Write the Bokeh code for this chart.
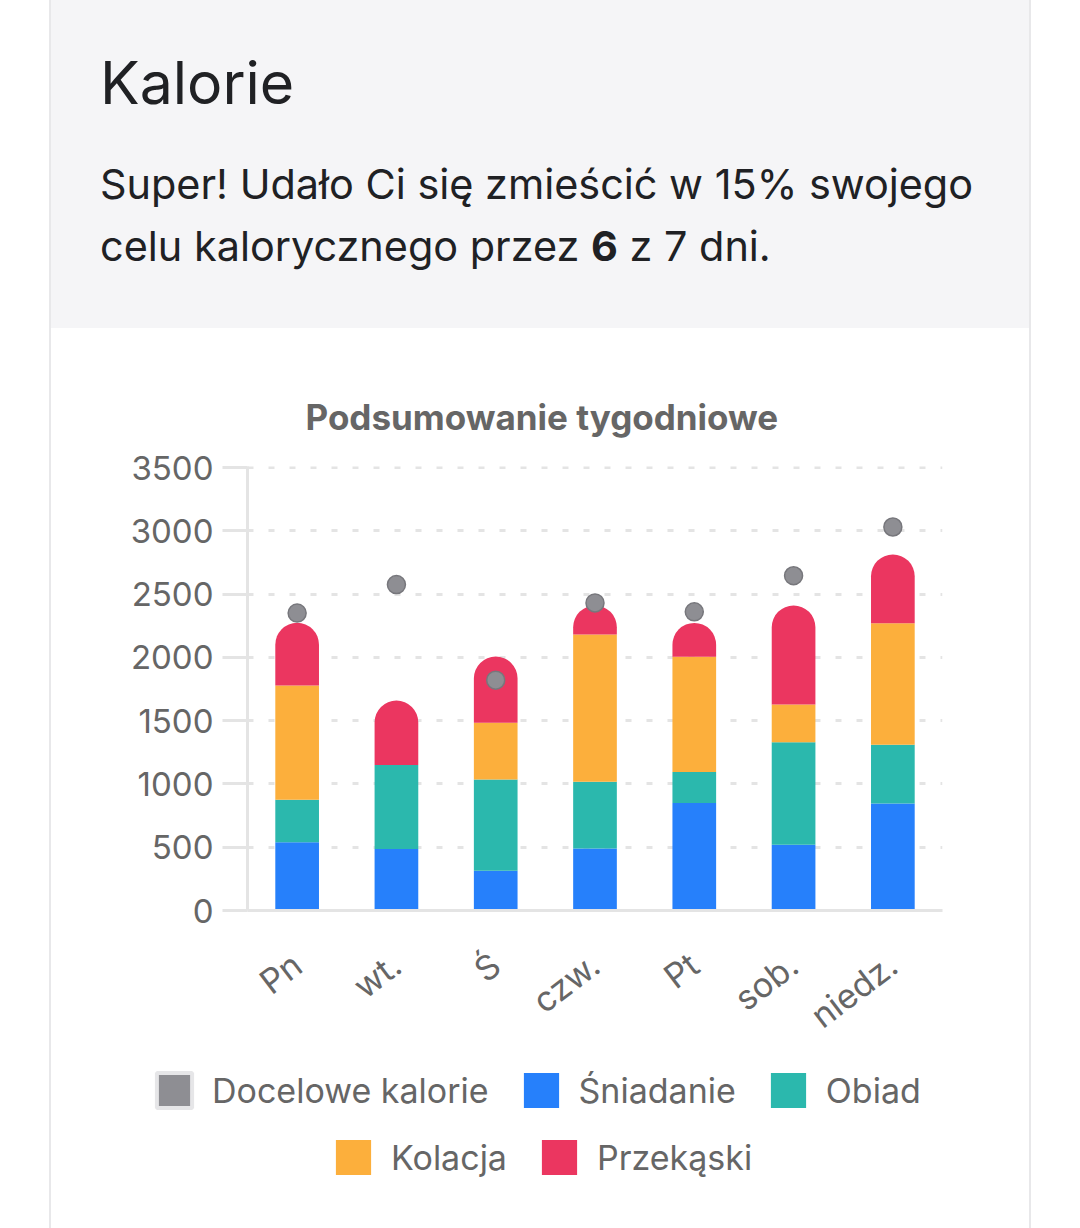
from bokeh.plotting import figure
from bokeh.models import (ColumnDataSource, FactorRange, Range1d, FixedTicker,
                          Legend, LegendItem, Div, Spacer)
from bokeh.layouts import column, row
from bokeh.embed import file_html
from bokeh.resources import INLINE

# ---- data ----
days = ["Pn", "wt.", "Ś", "czw.", "Pt", "sob.", "niedz."]
sniadanie = [540, 485, 315, 490, 850, 520, 845]
obiad = [335, 665, 720, 527, 245, 810, 464]
kolacja = [903, 0, 448, 1164, 909, 298, 961]
przekaski = [495, 509, 524, 229, 268, 782, 543]
docelowe = [2350, 2575, 1820, 2430, 2360, 2645, 3030]
y_ticks = [0, 500, 1000, 1500, 2000, 2500, 3000, 3500]
series_names = ["Śniadanie", "Obiad", "Kolacja", "Przekąski"]
target_name = "Docelowe kalorie"
chart_title = "Podsumowanie tygodniowe"
header_title = "Kalorie"
header_line1 = "Super! Udało Ci się zmieścić w 15% swojego"
header_line2 = "celu kalorycznego przez <b>6</b> z 7 dni."

colors = ["#2680fb", "#2bb8ad", "#fcaf3c", "#eb3660"]
target_fill = "#8e8e93"
FONT = "Inter"
TXT = "#666666"

# ---- stacked source ----
series = [sniadanie, obiad, kolacja, przekaski]
data = {"day": days, "target": docelowe}
running = [0] * len(days)
for i, s in enumerate(series):
    data[f"b{i}"] = list(running)
    running = [r + v for r, v in zip(running, s)]
    data[f"t{i}"] = list(running)
src = ColumnDataSource(data)

p = figure(x_range=FactorRange(*days, range_padding=0), y_range=Range1d(0, 3508),
           width=978, height=727, output_backend="svg", toolbar_location=None,
           min_border_left=196, min_border_right=87, min_border_top=138,
           min_border_bottom=145, outline_line_color=None,
           background_fill_color="white", border_fill_color="white", margin=0)

renderers = []
for i, name in enumerate(series_names):
    kw = {}
    if i == len(series_names) - 1:
        kw["border_radius"] = (22, 22, 0, 0)
    r = p.vbar(x="day", bottom=f"b{i}", top=f"t{i}", width=0.44, source=src,
               fill_color=colors[i], line_color=None, **kw)
    renderers.append(r)

dots = p.scatter(x="day", y="target", source=src, size=18, fill_color=target_fill,
                 line_color="#77777c", line_width=1.5)

# ---- title ----
p.title.text = chart_title
p.title.align = "left"
p.title.offset = 58
p.title.text_font = FONT
p.title.text_font_size = "35px"
p.title.text_font_style = "bold"
p.title.text_color = TXT
p.title.standoff = 58

# ---- axes ----
grid_c = "#e4e4e4"
p.yaxis.ticker = FixedTicker(ticks=y_ticks)
p.yaxis.major_label_text_font = FONT
p.yaxis.major_label_text_font_size = "33px"
p.yaxis.major_label_text_color = TXT
p.yaxis.axis_line_color = grid_c
p.yaxis.axis_line_width = 3
p.yaxis.major_tick_line_color = grid_c
p.yaxis.major_tick_line_width = 3
p.yaxis.major_tick_out = 25
p.yaxis.major_tick_in = 0
p.yaxis.minor_tick_line_color = None
p.yaxis.major_label_standoff = 9

p.xaxis.major_label_text_font = FONT
p.xaxis.major_label_text_font_size = "34px"
p.xaxis.major_label_text_color = TXT
p.xaxis.axis_line_color = grid_c
p.xaxis.axis_line_width = 3
p.xaxis.major_tick_line_color = None
p.xaxis.major_tick_out = 0
p.xaxis.major_label_orientation = 0.65
p.xaxis.major_label_standoff = 50

p.xgrid.grid_line_color = None
p.ygrid.grid_line_color = grid_c
p.ygrid.grid_line_width = 3
p.ygrid.grid_line_dash = "6 15"

# ---- legend panel (separate root so its frame spans the full card width) ----
lg = figure(width=978, height=173, x_range=FactorRange(*days), y_range=Range1d(-2, -1),
            x_axis_type=None, y_axis_type=None, output_backend="svg",
            toolbar_location=None, min_border=0, outline_line_color=None,
            background_fill_color="white", border_fill_color="white", margin=0)
# swatch renderers (data lies outside this panel's view; they only feed the legend)
sw_target = lg.rect(x="day", y="target", width=0, height=0, source=src,
                    fill_color=target_fill, line_color="#e6e6e8", line_width=4)
sw = [lg.rect(x="day", y="target", width=0, height=0, source=src,
              fill_color=c, line_color=None) for c in colors]

leg_common = dict(orientation="horizontal", glyph_width=44, glyph_height=44,
                  label_standoff=16, spacing=30, label_text_font=FONT,
                  label_text_font_size="34px", label_text_color=TXT,
                  border_line_color=None, background_fill_alpha=0, padding=0,
                  margin=0)
leg1 = Legend(items=[LegendItem(label=target_name, renderers=[sw_target]),
                     LegendItem(label=series_names[0], renderers=[sw[0]]),
                     LegendItem(label=series_names[1], renderers=[sw[1]])],
              location=(101, 116), **leg_common)
leg2 = Legend(items=[LegendItem(label=series_names[2], renderers=[sw[2]]),
                     LegendItem(label=series_names[3], renderers=[sw[3]])],
              location=(280, 49), **leg_common)
lg.add_layout(leg1, "center")
lg.add_layout(leg2, "center")

# ---- header ----
header_html = f"""
<div style="font-family:Inter; color:#202124; padding:48px 0 0 49px;">
  <div style="font-size:59px; line-height:70px; white-space:nowrap;">{header_title}</div>
  <div style="font-size:41.4px; line-height:62px; margin-top:35px; white-space:nowrap;">{header_line1}<br>{header_line2}</div>
</div>
"""
header = Div(text=header_html, width=978, height=328, margin=0,
             styles={"background-color": "#f5f5f7"})

def edge(h):
    return Div(text="", width=2, height=h, margin=0, styles={"background-color": "#e8e8ea"})

top_root = row(Spacer(width=49, height=10, margin=0), edge(1055),
               column(header, p, margin=0), edge(1055), margin=0)
legend_root = row(Spacer(width=49, height=10, margin=0), edge(173), lg, edge(173), margin=0)

open("out.html", "w").write(file_html([top_root, legend_root], INLINE))
